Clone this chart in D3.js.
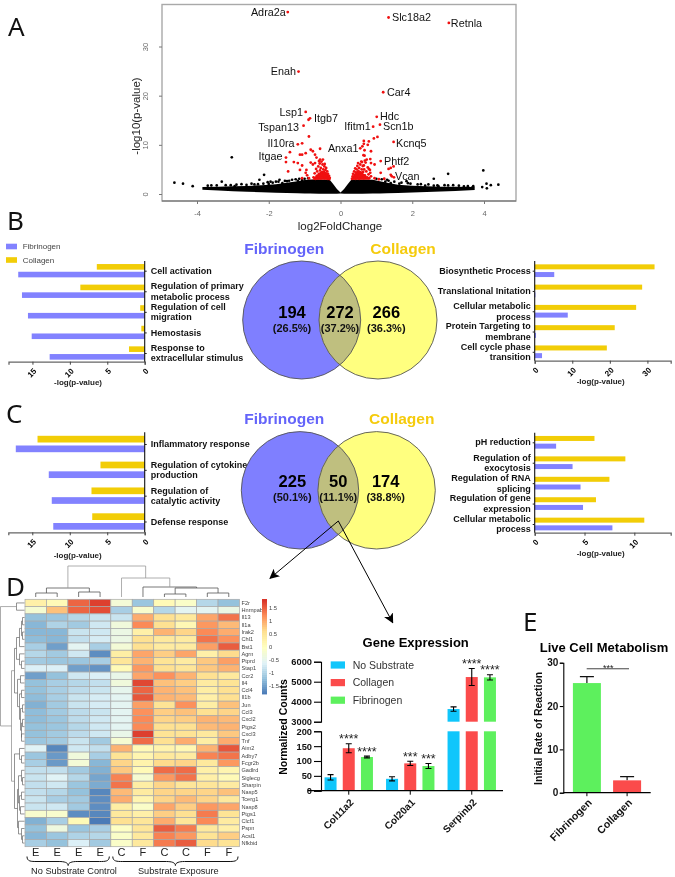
<!DOCTYPE html>
<html>
<head>
<meta charset="utf-8">
<script src="https://cdn.jsdelivr.net/npm/d3@7"></script>
<style>
	html, body { margin:0; padding:0; background:#fff; }
	svg { display:block; filter:blur(0.3px); }
	text { font-family:"Liberation Sans", Arial, sans-serif; }
	.bold, .bold text { font-weight:bold; }
	.axis path, .axis line { shape-rendering:auto; }
</style>
</head>
<body>
<div id="chart"></div>
<script>
(function(){
//---------Data: panel A (volcano)------------
const geneNames = ["Adra2a","Slc18a2","Retnla","Enah","Car4","Lsp1","Itgb7","Tspan13","Hdc","Ifitm1","Scn1b","Kcnq5","Anxa1","Il10ra","Itgae","Phtf2","Vcan"];
const geneFC = [-1.47,1.34,3.02,-1.17,1.19,-0.97,-0.85,-1.03,1.01,0.91,1.10,1.48,0.55,-1.19,-1.52,1.12,1.40];
const genePval = [37.0,35.9,34.8,24.9,20.7,16.7,15.4,13.9,15.7,13.7,14.1,10.6,9.3,10.1,7.4,6.7,3.9];

const redFC = [-0.89,-0.88,-1.07,-1.41,-1.52,-1.46,-1.30,-1.13,-1.07,-0.97,-0.83,-0.77,-0.57,-0.71,-0.67,-0.57,-0.49,-1.19,-1.07,-1.13,-0.95,-0.97,-0.93,-1.07,-0.88,-0.77,-0.71,-0.83,
	-0.75,-0.72,-0.70,-0.68,-0.66,-0.65,-0.63,-0.62,-0.60,-0.60,-0.58,-0.57,-0.55,-0.55,-0.53,-0.52,-0.50,-0.50,-0.48,-0.47,-0.46,-0.45,-0.44,-0.43,-0.42,-0.41,-0.40,-0.39,-0.38,-0.37,-0.36,-0.35,-0.34,-0.33,-0.32,-0.31,-0.30,-0.60,-0.53,-0.44,
	1.03,0.93,0.65,0.65,0.79,0.76,0.61,0.67,0.64,0.67,0.85,0.49,0.58,0.73,0.83,0.65,0.85,0.79,0.95,0.83,1.12,0.95,1.22,1.34,1.40,1.48,1.43,1.49,1.07,
	0.32,0.34,0.35,0.36,0.38,0.39,0.40,0.41,0.42,0.43,0.44,0.45,0.46,0.47,0.48,0.50,0.50,0.52,0.52,0.54,0.55,0.56,0.58,0.59,0.60,0.62,0.63,0.65,0.66,0.68,0.70,0.72,0.74,0.76,0.78,0.80,0.82,0.85,0.68,0.60];
const redP = [15.1,11.7,10.3,8.5,6.5,4.6,6.5,8.0,8.0,8.3,9.0,8.7,9.2,8.0,7.4,7.0,7.0,6.3,5.8,4.9,4.9,4.3,3.8,3.2,3.2,6.0,6.3,6.4,
	3.4,4.2,3.1,5.1,3.7,4.6,3.2,5.6,4.1,3.5,6.2,4.8,3.2,5.3,3.9,4.4,6.0,3.4,5.0,3.9,4.5,5.6,3.2,3.6,4.9,4.2,5.3,3.4,3.8,4.6,3.1,4.1,3.5,3.2,3.7,3.05,3.3,6.7,6.6,6.1,
	11.6,11.3,10.8,10.2,10.7,10.0,9.7,8.9,7.9,7.8,8.7,6.3,6.6,7.0,7.1,5.8,6.3,5.1,6.0,4.3,4.3,3.2,3.1,5.1,5.3,5.6,3.6,3.4,3.0,
	3.1,3.6,4.1,3.2,4.6,3.5,3.9,5.2,3.1,4.4,3.7,5.0,3.3,5.7,4.1,3.5,4.7,3.1,5.3,3.8,6.0,4.4,3.3,5.0,3.9,5.7,4.5,3.2,5.0,3.8,6.4,4.6,3.4,5.4,4.0,3.2,4.9,3.6,6.8,6.5];
// thick red part just over the black cloud
const redAreaFC = [-0.78,-0.66,-0.55,-0.45,-0.36,-0.28,0.3,0.38,0.48,0.58,0.68,0.8];
const redAreaTop = [3.0,3.9,4.6,4.8,4.0,2.9,2.9,4.0,4.8,4.6,3.9,3.0];

const blackFC = [-3.03,-4.63,-4.39,-4.12,-3.31,-2.26,-2.13,3.98,3.00,2.60,4.07,4.40,4.19,3.95,4.08,2.24,1.84,1.88,1.64,1.34,1.25,1.40,2.60,2.90,3.14,3.44,3.68,2.73,2.36,-3.60,-3.06,-2.76,-2.48,-2.03,-1.89,-1.73,-1.49,-1.43,-1.19,-1.07,-2.95,-2.30,-1.62,
	-3.70,-3.45,-3.20,-2.90,-2.62,-2.40,-2.15,-2.00,-1.80,-1.55,-1.35,-1.25,-1.15,-1.00,-0.90,1.00,1.15,1.30,1.50,1.70,1.95,2.15,2.45,2.70,3.00,3.30,3.55,3.70,-1.70,-1.95];
const blackP = [7.45,2.3,2.1,1.6,2.5,2.9,3.9,4.8,4.1,3.1,2.1,1.9,1.8,1.4,1.15,2.0,2.6,2.2,2.1,2.7,2.5,2.2,1.7,1.8,1.8,1.55,1.35,1.6,1.7,1.75,1.8,2.0,2.1,2.4,2.3,2.5,2.6,2.7,2.7,2.85,1.6,2.0,2.2,
	1.7,1.75,1.8,1.9,1.85,1.95,2.1,2.05,2.5,2.65,2.9,3.0,3.1,3.1,3.2,3.1,3.0,2.9,2.5,2.3,2.1,1.95,1.95,1.75,1.75,1.7,1.6,1.6,2.9,2.5];

// dense part of the cloud, read as its outline
const cloudFC = [-3.85,-3.4,-3,-2.6,-2.2,-1.8,-1.5,-1.2,-1,-0.85,-0.6,-0.3,-0.2,-0.1,0,0.1,0.2,0.3,0.6,0.9,1.1,1.3,1.6,2,2.4,2.8,3.2,3.74];
const cloudTop = [1.4,1.5,1.6,1.65,1.8,2.0,2.3,2.6,2.85,2.95,2.95,2.9,2.0,1.0,0.3,1.0,2.0,2.9,2.95,2.9,2.6,2.3,1.9,1.7,1.6,1.5,1.5,1.4];
const cloudBot = [0.85,0.7,0.55,0.45,0.35,0.25,0.2,0.15,0.1,0.08,0.05,0.05,0.05,0.05,0.1,0.05,0.05,0.05,0.05,0.08,0.1,0.15,0.2,0.3,0.4,0.5,0.6,0.8];

//---------Data: panels B and C (bars and Venn)------------
const bLeftCats = ["Cell activation","Regulation of primary\nmetabolic process","Regulation of cell\nmigration","Hemostasis","Response to\nextracellular stimulus"];
const bLeftColl = [6.4,8.6,0.6,0.45,2.1];
const bLeftFib = [16.9,16.4,15.6,15.1,12.7];
const bRightCats = ["Biosynthetic Process","Translational Initation","Cellular metabolic\nprocess","Protein Targeting to\nmembrane","Cell cycle phase\ntransition"];
const bRightColl = [31.9,28.6,27,21.3,19.2];
const bRightFib = [5.2,0.2,8.8,0.35,1.95];
const cLeftCats = ["Inflammatory response","Regulation of cytokine\nproduction","Regulation of\ncatalytic activity","Defense response"];
const cLeftColl = [14.3,5.9,7.1,7.0];
const cLeftFib = [17.2,12.8,12.4,12.2];
const cRightCats = ["pH reduction","Regulation of\nexocytosis","Regulation of RNA\nsplicing","Regulation of gene\nexpression","Cellular metabolic\nprocess"];
const cRightColl = [6.0,9.1,7.5,6.15,11];
const cRightFib = [2.15,3.8,4.6,4.85,7.8];
const vennB = ["194","272","266"];
const vennBPct = ["(26.5%)","(37.2%)","(36.3%)"];
const vennC = ["225","50","174"];
const vennCPct = ["(50.1%)","(11.1%)","(38.8%)"];

//---------Data: panel D (heatmap)------------
const heatCols = ["E","E","E","E","C","F","C","C","F","F"];
const heatRows = ["F2r","Hnrnpab","Il13","Il1a","Irak2","Chl1","Bst1","Agrn","Ptprd","Stap1","Ccr2","Il4","Ccl4","Il1b","Jun","Ccl3","Cxcl2","Ptgs2","Cxcl3","Tnf","Aim2","Adby7","Fcgr2b","Gadlrd","Siglecg","Sharpin","Nasp5","Tcerg1","Nasp8","Ptgs1","Clcf1","Pspn","Acsl1","Nfkbid"];
const heatVals = [
	[0.3,0.1,1.5,1.75,-0.25,-1.15,0.1,-0.1,-0.95,-1.2],
	[-0.2,0.85,1.5,1.65,-1.05,-0.15,-0.95,-0.55,-0.55,-0.4],
	[-1.2,-1.15,-0.95,-0.8,-0.8,1.0,0.6,0.45,1.05,1.4],
	[-1.3,-1.0,-1.1,-0.75,-0.3,1.25,0.6,0.15,1.15,0.9],
	[-1.3,-1.3,-0.8,-0.75,-0.4,0.3,0.95,0.7,1.25,1.0],
	[-1.25,-1.3,-0.85,-0.7,-0.4,0.6,0.45,0.4,1.4,1.2],
	[-1.05,-1.5,-0.55,-1.05,-0.25,0.6,0.4,0.4,1.1,1.55],
	[-0.95,-1.1,-0.75,-1.65,0.35,1.05,0.75,1.05,0.3,0.65],
	[-1.1,-1.15,-1.15,-1.05,0.5,0.95,0.55,0.4,0.8,1.1],
	[-0.65,-0.65,-1.5,-1.6,0.1,1.15,0.6,0.5,0.8,0.95],
	[-1.5,-1.2,-0.75,-0.65,-0.45,1.05,1.2,0.95,0.6,0.45],
	[-1.2,-1.05,-0.95,-0.85,-0.3,1.7,0.85,0.75,0.4,0.55],
	[-1.2,-1.05,-0.9,-0.8,-0.5,1.5,0.95,0.85,0.35,0.6],
	[-1.25,-1.05,-0.8,-0.7,-0.55,1.6,0.95,0.9,0.3,0.6],
	[-1.35,-1.1,-0.8,-0.7,-0.55,1.1,0.55,1.2,0.35,0.85],
	[-1.25,-1.1,-0.9,-0.8,-0.55,1.2,0.75,0.85,0.6,0.7],
	[-1.25,-1.15,-0.9,-0.75,-0.55,1.25,0.7,0.75,0.95,0.9],
	[-1.2,-1.15,-0.95,-0.75,-0.55,1.25,0.6,0.6,0.9,0.95],
	[-1.2,-1.1,-0.9,-0.75,-0.45,1.75,0.55,0.55,0.45,0.8],
	[-1.15,-1.1,-0.8,-1.1,-0.2,1.45,0.6,1.0,0.35,1.0],
	[-0.6,-1.7,-0.75,-0.85,0.95,0.1,0.25,0.15,0.95,1.6],
	[-1.15,-1.55,-0.3,-1.05,0.55,0.2,0.45,0.4,1.3,1.4],
	[-1.05,-1.55,-0.25,-1.3,0.7,0.25,0.65,0.7,0.45,1.15],
	[-0.85,-0.85,-1.1,-1.35,0.8,0.1,1.45,1.45,0.3,0.2],
	[-0.8,-0.6,-0.95,-1.45,1.3,-0.2,1.15,1.4,0.3,0.1],
	[-0.85,-0.75,-1.15,-1.4,1.4,0.35,0.7,0.5,0.5,0.4],
	[-0.85,-0.95,-1.2,-1.7,0.9,0.4,0.7,0.7,0.7,0.85],
	[-0.8,-1.05,-1.1,-1.65,1.0,0.2,0.7,0.9,0.7,0.45],
	[-0.8,-0.75,-1.1,-1.65,0.35,-0.1,1.05,0.75,1.15,1.05],
	[-0.15,-0.15,-1.65,-1.7,0.45,0.3,0.75,0.6,1.35,0.55],
	[-1.35,-1.05,0.1,-1.8,0.6,0.5,1.0,0.5,1.25,0.4],
	[-1.2,-0.35,-1.15,-1.05,-0.05,0.5,1.55,1.35,0.45,0.3],
	[-1.3,-1.15,-1.0,-0.95,-0.1,0.45,1.3,1.15,0.55,0.75],
	[-1.05,-1.2,-0.65,-1.1,-0.1,0.45,1.35,1.55,0.65,0.55]
];
// dendrograms: [height, left, right], a number is a leaf
const colTree = [31,[9,[4,0,1],[5,2,3]],[19,4,[10,5,[9,[3,6,7],[4,8,9]]]]];
const rowTree = [24,[8,0,1],[13,
	[10,[8,[5,[3,[2,2,3],[2,4,5]],6],[5,7,[3,8,9]]],[7,[4,10,11],[5,[3,12,13],[4,[2,14,15],[3,[2,16,17],[3,18,19]]]]]],
	[10,[5,20,[3,21,22]],[7,[6,[3,23,[2,24,25]],[5,[3,26,27],[4,28,29]]],[6,30,[3,31,[2,32,33]]]]]
]];
const legendTicks = [-1.5,-1,-0.5,0,0.5,1,1.5];

//---------Data: gene expression and metabolism------------
const exprGenes = ["Col11a2","Col20a1","Serpinb2"];
const exprSeries = ["No Substrate","Collagen","Fibrinogen"];
const exprMeans = [[45,143,113.5],[40,92,83],[3633,5233,5217]];
const exprErrs = [[9,15,3],[7,7,8.5],[110,425,130]];
const exprStars = [["","****","****"],["","***","***"],["","****","****"]];
const lowTicks = [0,50,100,150,200];
const highTicks = [3000,4000,5000,6000];
const metaCats = ["Fibrinogen","Collagen"];
const metaVals = [25.3,2.85];
const metaErrs = [1.5,0.85];
const metaTicks = [0,10,20,30];

//---------Colours------------
const FIB = "#8282ff", COLL = "#f2cd07";
const CYAN = "#10c6fb", RED = "#fb4b4b", GREEN = "#5df05d";

const svg = d3.select("#chart").append("svg")
	.attr("width", 675)
	.attr("height", 877);

function label(x, y, str, size, opts){
	opts = opts || {};
	return svg.append("text")
		.attr("x", x).attr("y", y)
		.attr("dy", "0.35em")
		.attr("text-anchor", opts.anchor || "start")
		.attr("font-size", size)
		.attr("font-weight", opts.bold ? "bold" : null)
		.attr("fill", opts.fill || "#000")
		.attr("transform", opts.rotate ? "rotate(" + opts.rotate + " " + x + " " + y + ")" : null)
		.text(str);
}

// panel letters
const letterFont = { fill:"#111" };
[["A",8,27],["B",7,221],["C",6,414],["D",6,587],["E",523,622]].forEach(function(d){
	label(d[1], d[2], d[0], 26, letterFont).style("font-family", "'Noto Sans', sans-serif");
});

//---------Panel A------------
(function(){
	const x = d3.scaleLinear().domain([-4,4]).range([197,484]);
	const y = d3.scaleLinear().domain([0,30]).range([194,46.5]);
	const boxL = 162, boxR = 516, boxT = 4.5, boxB = 201;

	svg.append("rect")
		.attr("x", boxL).attr("y", boxT)
		.attr("width", boxR - boxL).attr("height", boxB - boxT)
		.attr("fill", "none").attr("stroke", "#a9a9a9").attr("stroke-width", 1.4);
	svg.append("line")
		.attr("x1", boxL).attr("x2", boxR).attr("y1", boxB).attr("y2", boxB)
		.attr("stroke", "#666").attr("stroke-width", 1.2);

	const gx = svg.append("g").attr("class", "axis")
		.attr("transform", "translate(0," + boxB + ")")
		.call(d3.axisBottom(x).tickValues([-4,-2,0,2,4]).tickSize(3).tickPadding(7).tickFormat(function(d){ return String(d); }));
	gx.select(".domain").remove();
	gx.selectAll("line").attr("stroke", "#777");
	gx.selectAll("text").attr("font-size", 7.5).attr("fill", "#666");

	const gy = svg.append("g").attr("class", "axis")
		.attr("transform", "translate(" + boxL + ",0)")
		.call(d3.axisLeft(y).tickValues([0,10,20,30]).tickSize(3));
	gy.select(".domain").remove();
	gy.selectAll("line").attr("stroke", "#777");
	gy.selectAll("text")
		.attr("font-size", 7.5).attr("fill", "#666")
		.attr("text-anchor", "middle")
		.attr("x", 0).attr("dy", 0)
		.attr("transform", function(){ return "translate(-14,0) rotate(-90)"; });

	label(340, 226, "log2FoldChange", 11.5, { anchor:"middle", fill:"#222" });
	label(136, 116, "-log10(p-value)", 11.5, { anchor:"middle", fill:"#222", rotate:-90 });

	const cloud = d3.area()
		.x(function(d, i){ return x(cloudFC[i]); })
		.y0(function(d, i){ return y(cloudBot[i]); })
		.y1(function(d, i){ return y(cloudTop[i]); });
	svg.append("path").datum(cloudFC).attr("d", cloud).attr("fill", "#000");

	svg.append("g").selectAll("circle").data(blackFC).enter().append("circle")
		.attr("cx", function(d){ return x(d); })
		.attr("cy", function(d, i){ return y(blackP[i]); })
		.attr("r", 1.35).attr("fill", "#000");

	const redArea = d3.area()
		.defined(function(d, i){ return true; })
		.x(function(d, i){ return x(redAreaFC[i]); })
		.y0(y(2.9))
		.y1(function(d, i){ return y(redAreaTop[i]); });
	svg.append("path").datum(redAreaFC.slice(0,6)).attr("d", redArea).attr("fill", "#f01010");
	svg.append("path").datum(redAreaFC.slice(6)).attr("d", d3.area()
		.x(function(d, i){ return x(redAreaFC[i + 6]); })
		.y0(y(2.9))
		.y1(function(d, i){ return y(redAreaTop[i + 6]); })).attr("fill", "#f01010");

	svg.append("g").selectAll("circle").data(redFC).enter().append("circle")
		.attr("cx", function(d){ return x(d); })
		.attr("cy", function(d, i){ return y(redP[i]); })
		.attr("r", 1.4).attr("fill", "#f01010");
	svg.append("g").selectAll("circle").data(geneFC).enter().append("circle")
		.attr("cx", function(d){ return x(d); })
		.attr("cy", function(d, i){ return y(genePval[i]); })
		.attr("r", 1.4).attr("fill", "#f01010");

	// label placement beside each dot: dx, dy
	const geneOffsets = [[-2,0],[3.4,0],[2,0],[-2.5,-0.5],[3.8,0],[-2.7,0.8],[4,0],[-4.5,1.3],[3.3,-0.5],[-2.5,-0.6],[3,1.8],[2.4,1],[-1.7,0],[-3.2,-0.8],[-3.5,-1.6],[3.3,0],[4.3,1.2]];
	geneNames.forEach(function(name, i){
		const off = geneOffsets[i];
		label(x(geneFC[i]) + off[0], y(genePval[i]) + off[1], name, 10.8, { anchor: off[0] < 0 ? "end" : "start", fill:"#111" });
	});
})();

//---------Bars in B and C------------
function sideBars(opts){
	const flip = opts.side === "left";
	const x = d3.scaleLinear().domain([0, opts.max]).range([opts.x0, opts.x1]);
	const y = d3.scalePoint().domain(opts.cats).range([opts.y0, opts.y1]);

	opts.coll.forEach(function(v, i){
		svg.append("rect")
			.attr("x", Math.min(x(0), x(v))).attr("width", Math.abs(x(v) - x(0)))
			.attr("y", y(opts.cats[i]) - opts.off - opts.barH / 2).attr("height", opts.barH)
			.attr("fill", COLL);
		svg.append("rect")
			.attr("x", Math.min(x(0), x(opts.fib[i]))).attr("width", Math.abs(x(opts.fib[i]) - x(0)))
			.attr("y", y(opts.cats[i]) + opts.off - opts.barH / 2).attr("height", opts.barH)
			.attr("fill", FIB);
	});

	const ga = svg.append("g").attr("class", "axis bold")
		.attr("transform", "translate(0," + opts.axisY + ")")
		.call(d3.axisBottom(x).tickValues(opts.ticks).tickSize(3));
	ga.select(".domain").attr("stroke", "#666").attr("stroke-width", 1.3);
	ga.selectAll("line").attr("stroke", "#444");
	ga.selectAll("text")
		.attr("font-size", 8)
		.attr("text-anchor", "end")
		.attr("x", 0).attr("y", 0).attr("dy", "0.35em")
		.attr("transform", "translate(2,8) rotate(-45)");

	const yAxis = (flip ? d3.axisRight(y) : d3.axisLeft(y)).tickSize(2).tickFormat("");
	const gb = svg.append("g").attr("class", "axis")
		.attr("transform", "translate(" + opts.x0 + ",0)")
		.call(yAxis);
	gb.select(".domain").attr("d", "M0," + opts.topY + "V" + opts.axisY).attr("stroke", "#111").attr("stroke-width", 1.1);
	gb.selectAll("line").attr("stroke", "#222");

	opts.cats.forEach(function(c){
		const lines = c.split("\n");
		lines.forEach(function(str, j){
			label(opts.x0 + (flip ? 6 : -4), y(c) + (j - (lines.length - 1) / 2) * 10.6, str, 9, { anchor: flip ? "start" : "end", bold:true, fill:"#111" });
		});
	});
	label(opts.titleX, opts.titleY, "-log(p-value)", 8, { anchor:"middle", bold:true, fill:"#222" });
}

sideBars({ side:"left", cats:bLeftCats, coll:bLeftColl, fib:bLeftFib, max:18.2, x0:144.7, x1:8.5, y0:270.7, y1:353, off:3.85, barH:5.6, axisY:361.7, topY:261, ticks:[0,5,10,15], titleX:78, titleY:382 });
sideBars({ side:"right", cats:bRightCats, coll:bRightColl, fib:bRightFib, max:36.2, x0:534.7, x1:670.7, y0:270.7, y1:351.8, off:3.85, barH:5, axisY:360.7, topY:261, ticks:[0,10,20,30], titleX:600.7, titleY:380.7 });
sideBars({ side:"left", cats:cLeftCats, coll:cLeftColl, fib:cLeftFib, max:18.2, x0:144.7, x1:8.3, y0:444, y1:521.5, off:4.85, barH:6.7, axisY:532.3, topY:432.3, ticks:[0,5,10,15], titleX:77.7, titleY:554.7 });
sideBars({ side:"right", cats:cRightCats, coll:cRightColl, fib:cRightFib, max:13.65, x0:534.7, x1:670.7, y0:442.3, y1:524, off:3.85, barH:5, axisY:532.7, topY:432.7, ticks:[0,5,10], titleX:600.7, titleY:552.7 });

// legend for B
[["Fibrinogen",FIB,246.5],["Collagen",COLL,260]].forEach(function(d){
	svg.append("rect").attr("x", 6).attr("y", d[2] - 2.8).attr("width", 11).attr("height", 5.6).attr("fill", d[1]);
	label(22.7, d[2], d[0], 8, { fill:"#444" });
});

//---------Venn diagrams------------
function venn(opts){
	const r = opts.r;
	svg.append("circle").attr("cx", opts.cx1).attr("cy", opts.cy).attr("r", r).attr("fill", "#7f7fff");
	svg.append("circle").attr("cx", opts.cx2).attr("cy", opts.cy).attr("r", r).attr("fill", "#ffff7f");
	const clipId = "clip" + opts.id;
	svg.append("clipPath").attr("id", clipId).append("circle").attr("cx", opts.cx1).attr("cy", opts.cy).attr("r", r);
	svg.append("circle").attr("cx", opts.cx2).attr("cy", opts.cy).attr("r", r).attr("fill", "#bfbf7f").attr("clip-path", "url(#" + clipId + ")");
	[opts.cx1, opts.cx2].forEach(function(c){
		svg.append("circle").attr("cx", c).attr("cy", opts.cy).attr("r", r).attr("fill", "none").attr("stroke", "#555").attr("stroke-width", 0.9);
	});
	opts.counts.forEach(function(n, i){
		label(opts.tx[i], opts.cy + opts.dy1, n, 16.5, { anchor:"middle", bold:true });
		label(opts.tx[i], opts.cy + opts.dy2, opts.pcts[i], 11, { anchor:"middle", bold:true, fill:"#111" });
	});
	label(284.3, opts.titleY, "Fibrinogen", 15.5, { anchor:"middle", bold:true, fill:"#6464fa" });
	label(opts.collX, opts.titleY, "Collagen", 15.5, { anchor:"middle", bold:true, fill:"#f5cb0c" });
}
venn({ id:"b", cx1:301.7, cx2:378, cy:320, r:59, counts:vennB, pcts:vennBPct, tx:[292,340,386.3], dy1:-7.3, dy2:7.7, titleY:248.3, collX:403 });
venn({ id:"c", cx1:300, cx2:376.6, cy:490.3, r:58.7, counts:vennC, pcts:vennCPct, tx:[292.3,338.3,385.7], dy1:-8.7, dy2:6.6, titleY:419, collX:401.7 });

// arrows out of the overlap
svg.append("defs").append("marker")
	.attr("id", "arrow").attr("viewBox", "0 0 10 10")
	.attr("refX", 9).attr("refY", 5)
	.attr("markerWidth", 10).attr("markerHeight", 10)
	.attr("markerUnits", "userSpaceOnUse")
	.attr("orient", "auto")
	.append("path").attr("d", "M0,0L10,5L0,10L2.5,5Z").attr("fill", "#000");
[[270,578.3],[392.7,622.7]].forEach(function(t){
	svg.append("line")
		.attr("x1", 338.3).attr("y1", 521)
		.attr("x2", t[0]).attr("y2", t[1])
		.attr("stroke", "#000").attr("stroke-width", 1)
		.attr("marker-end", "url(#arrow)");
});

//---------Panel D------------
(function(){
	const left = 25, right = 239.5, top = 599.3, bottom = 846.7;
	const colIdx = d3.range(heatCols.length), rowIdx = d3.range(heatRows.length);
	const cx = d3.scaleBand().domain(colIdx).range([left, right]);
	const cy = d3.scaleBand().domain(rowIdx).range([top, bottom]);
	const color = d3.scaleLinear()
		.domain([-1.85,-1.23,-0.62,0,0.62,1.23,1.85])
		.range(["#4575b4","#91bfdb","#e0f3f8","#ffffbf","#fee090","#fc8d59","#d73027"]);

	heatVals.forEach(function(row, r){
		svg.append("g").selectAll("rect").data(row).enter().append("rect")
			.attr("x", function(d, c){ return cx(c); })
			.attr("y", cy(r))
			.attr("width", cx.bandwidth())
			.attr("height", cy.bandwidth())
			.attr("fill", function(d){ return color(d); })
			.attr("stroke", "#a8a8a8")
			.attr("stroke-width", 0.7);
	});

	svg.append("g").selectAll("text").data(heatRows).enter().append("text")
		.attr("x", right + 2)
		.attr("y", function(d, i){ return cy(i) + cy.bandwidth() / 2; })
		.attr("dy", "0.35em")
		.attr("font-size", 5.6)
		.attr("fill", "#444")
		.text(function(d){ return d; });

	svg.append("g").selectAll("text").data(heatCols).enter().append("text")
		.attr("x", function(d, i){ return cx(i) + cx.bandwidth() / 2; })
		.attr("y", 852.5)
		.attr("dy", "0.35em")
		.attr("text-anchor", "middle")
		.attr("font-size", 11)
		.attr("fill", "#222")
		.text(function(d){ return d; });

	// dendrograms
	function drawTree(node, size, place, out){
		if (typeof node === "number") return { pos: place(node), h: 0 };
		const a = drawTree(node[1], size, place, out);
		const b = drawTree(node[2], size, place, out);
		out.push([a.pos, a.h, b.pos, b.h, node[0]]);
		return { pos: (a.pos + b.pos) / 2, h: node[0] };
	}
	const colSegs = [], rowSegs = [];
	drawTree(colTree, 0, function(i){ return cx(i) + cx.bandwidth() / 2; }, colSegs);
	drawTree(rowTree, 0, function(i){ return cy(i) + cy.bandwidth() / 2; }, rowSegs);
	const hCol = d3.scaleLinear().domain([0,31]).range([597,566]);
	const hRow = d3.scaleLinear().domain([0,24]).range([24.5,0.5]);
	svg.append("g").selectAll("path").data(colSegs).enter().append("path")
		.attr("d", function(s){
			return "M" + s[0] + "," + hCol(s[1]) + "V" + hCol(s[4]) + "H" + s[2] + "V" + hCol(s[3]);
		})
		.attr("fill", "none")
		.attr("stroke", function(s){ return s[4] > 15 ? "#999" : "#555"; })
		.attr("stroke-width", 0.8);
	svg.append("g").selectAll("path").data(rowSegs).enter().append("path")
		.attr("d", function(s){
			return "M" + hRow(s[1]) + "," + s[0] + "H" + hRow(s[4]) + "V" + s[2] + "H" + hRow(s[3]);
		})
		.attr("fill", "none")
		.attr("stroke", function(s){ return s[4] > 12 ? "#888" : "#666"; })
		.attr("stroke-width", 0.7);

	// colour key
	const key = d3.scaleLinear().domain([-1.83,1.86]).range([694,599]);
	const keySteps = d3.range(0, 48);
	svg.append("g").selectAll("rect").data(keySteps).enter().append("rect")
		.attr("x", 262).attr("width", 5)
		.attr("y", function(d){ return key(-1.83 + (d + 1) * 3.69 / 48); })
		.attr("height", 2.4)
		.attr("fill", function(d){ return color(-1.83 + (d + 0.5) * 3.69 / 48); });
	svg.append("g").selectAll("text").data(legendTicks).enter().append("text")
		.attr("x", 269)
		.attr("y", function(d){ return key(d); })
		.attr("dy", "0.35em")
		.attr("font-size", 5.8)
		.attr("fill", "#444")
		.text(function(d){ return String(d); });
	label(283, 727, "Normalized Counts", 10.5, { anchor:"middle", bold:true, rotate:-90 });

	// braces under the columns
	function brace(x0, x1, y){
		const m = (x0 + x1) / 2;
		return "M" + x0 + "," + y + "C" + x0 + "," + (y+5) + " " + (x0+4) + "," + (y+5) + " " + (x0+10) + "," + (y+5) +
			"L" + (m-9) + "," + (y+5) + "C" + (m-4) + "," + (y+5) + " " + m + "," + (y+6) + " " + m + "," + (y+9) +
			"C" + m + "," + (y+6) + " " + (m+4) + "," + (y+5) + " " + (m+9) + "," + (y+5) +
			"L" + (x1-10) + "," + (y+5) + "C" + (x1-4) + "," + (y+5) + " " + x1 + "," + (y+5) + " " + x1 + "," + y;
	}
	[[0,3],[4,9]].forEach(function(g){
		svg.append("path")
			.attr("d", brace(cx(g[0]) + 2, cx(g[1]) + cx.bandwidth() - 1.5, 856.5))
			.attr("fill", "none").attr("stroke", "#111").attr("stroke-width", 1);
	});
	label(74, 870.7, "No Substrate Control", 9.2, { anchor:"middle", fill:"#222" });
	label(178.3, 870.7, "Substrate Exposure", 9.2, { anchor:"middle", fill:"#222" });
})();

//---------Gene expression------------
(function(){
	const group = d3.scaleBand().domain(exprGenes).range([318,502.5]).padding(0);
	const inner = d3.scaleBand().domain(exprSeries).range([-27.3,27.3]);
	const low = d3.scaleLinear().domain([0,200]).range([790.7,731.3]);
	const high = d3.scaleLinear().domain([3000,6000]).range([721.7,661.7]);
	const barColors = d3.scaleOrdinal().domain(exprSeries).range([CYAN,RED,GREEN]);
	const bw = 12;
	function valueY(v){ return v > 200 ? high(v) : low(v); }

	label(415.7, 642.7, "Gene Expression", 13, { anchor:"middle", bold:true });

	exprGenes.forEach(function(gene, g){
		exprSeries.forEach(function(s, k){
			const v = exprMeans[g][k], e = exprErrs[g][k];
			const cx = group(gene) + group.bandwidth() / 2 + inner(s) + inner.bandwidth() / 2;
			if (v > 200){
				svg.append("rect").attr("x", cx - bw / 2).attr("width", bw)
					.attr("y", high(v)).attr("height", high(3000) - high(v)).attr("fill", barColors(s));
				svg.append("rect").attr("x", cx - bw / 2).attr("width", bw)
					.attr("y", low(200)).attr("height", low(0) - low(200)).attr("fill", barColors(s));
			} else {
				svg.append("rect").attr("x", cx - bw / 2).attr("width", bw)
					.attr("y", low(v)).attr("height", low(0) - low(v)).attr("fill", barColors(s));
			}
			const yt = valueY(v + e), yb = valueY(v - e);
			svg.append("path")
				.attr("d", "M" + (cx-3) + "," + yt + "H" + (cx+3) + "M" + cx + "," + yt + "V" + yb + "M" + (cx-3) + "," + yb + "H" + (cx+3))
				.attr("stroke", "#000").attr("stroke-width", 1.1).attr("fill", "none");
			if (exprStars[g][k]){
				svg.append("text")
					.attr("x", cx).attr("y", yt - 7 + 6.6)
					.attr("text-anchor", "middle")
					.attr("font-size", 12.5)
					.attr("fill", "#222")
					.text(exprStars[g][k]);
			}
		});
	});

	const plain = d3.format("d");
	const gl = svg.append("g").attr("class", "axis bold")
		.attr("transform", "translate(321,0)")
		.call(d3.axisLeft(low).tickValues(lowTicks).tickSize(7).tickPadding(2).tickFormat(plain));
	const gh = svg.append("g").attr("class", "axis bold")
		.attr("transform", "translate(321,0)")
		.call(d3.axisLeft(high).tickValues(highTicks).tickSize(7).tickPadding(2).tickFormat(plain));
	[gl, gh].forEach(function(a){
		a.selectAll("text").attr("font-size", 9.3).attr("fill", "#111");
		a.selectAll("line").attr("stroke-width", 1.1);
		a.select(".domain").attr("stroke-width", 1.1);
	});

	const gb = svg.append("g").attr("class", "axis bold")
		.attr("transform", "translate(0,790.7)")
		.call(d3.axisBottom(group).tickSize(4));
	gb.select(".domain").attr("d", "M308,0H503").attr("stroke-width", 1.3);
	gb.selectAll("text")
		.attr("font-size", 10).attr("fill", "#111")
		.attr("text-anchor", "end").attr("x", 0).attr("y", 0).attr("dy", "0.35em")
		.attr("transform", "translate(3,10) rotate(-45)");

	exprSeries.forEach(function(s, k){
		const yc = 665 + k * 17.6;
		svg.append("rect").attr("x", 330.7).attr("y", yc - 3.6).attr("width", 14.3).attr("height", 7.2).attr("fill", barColors(s));
		label(352.7, yc, s, 10.5, { fill:"#333" });
	});
})();

//---------Panel E------------
(function(){
	const x = d3.scaleBand().domain(metaCats).range([566,648]).padding(0.04);
	const y = d3.scaleLinear().domain([0,30]).range([792.7,662.7]);
	const colors = [GREEN, RED];

	label(604, 647.3, "Live Cell Metabolism", 13, { anchor:"middle", bold:true });

	metaCats.forEach(function(c, i){
		const cx = x(c) + x.bandwidth() / 2;
		svg.append("path")
			.attr("d", "M" + cx + "," + y(metaVals[i]) + "V" + y(metaVals[i] + metaErrs[i]) + "M" + (cx-7) + "," + y(metaVals[i] + metaErrs[i]) + "H" + (cx+7))
			.attr("stroke", "#111").attr("stroke-width", 1.2).attr("fill", "none");
		svg.append("rect")
			.attr("x", cx - 14).attr("width", 28)
			.attr("y", y(metaVals[i])).attr("height", y(0) - y(metaVals[i]))
			.attr("fill", colors[i]);
	});

	const gy = svg.append("g").attr("class", "axis bold")
		.attr("transform", "translate(563.3,0)")
		.call(d3.axisLeft(y).tickValues(metaTicks).tickSize(3.5).tickPadding(1.5));
	gy.selectAll("text").attr("font-size", 10).attr("fill", "#111");
	gy.selectAll("line").attr("stroke-width", 1.1);
	gy.select(".domain").attr("stroke-width", 1.1);

	const gx = svg.append("g").attr("class", "axis bold")
		.attr("transform", "translate(0,792.7)")
		.call(d3.axisBottom(x).tickSize(3.5));
	gx.select(".domain").attr("d", "M563.3,0H650.7").attr("stroke-width", 1.2);
	gx.selectAll("text")
		.attr("font-size", 10.5).attr("fill", "#111")
		.attr("text-anchor", "end").attr("x", 0).attr("y", 0).attr("dy", "0.35em")
		.attr("transform", "translate(3,8) rotate(-45)");

	label(538.3, 728.3, "Initial Rate of Reaction", 10.5, { anchor:"middle", bold:true, fill:"#111", rotate:-90 });

	svg.append("line")
		.attr("x1", 586.7).attr("x2", 629)
		.attr("y1", y(28.6)).attr("y2", y(28.6))
		.attr("stroke", "#444").attr("stroke-width", 1);
	svg.append("text")
		.attr("x", 608.3).attr("y", y(28.6) + 2)
		.attr("text-anchor", "middle").attr("font-size", 9).attr("fill", "#222")
		.text("***");
})();
})();
</script>
</body>
</html>
